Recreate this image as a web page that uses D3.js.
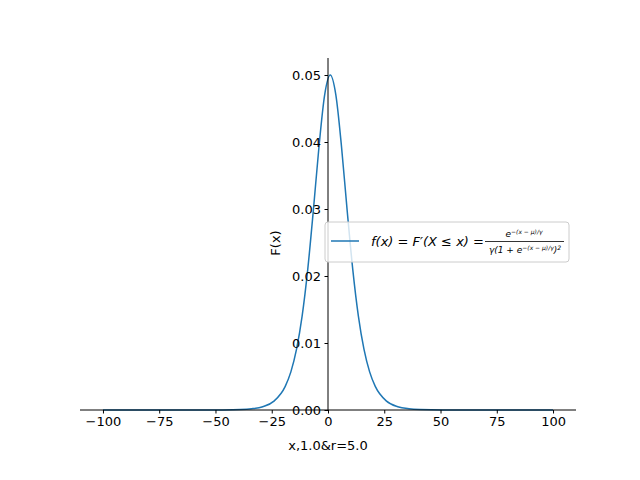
<!DOCTYPE html>
<html><head><meta charset="utf-8">
<script src="https://cdn.jsdelivr.net/npm/d3@7"></script>
<style>body{margin:0;background:#fff}text{font-family:"DejaVu Sans",sans-serif}</style>
</head><body><svg id="c" width="640" height="480"></svg>
<script>
// values
var xs = [-100,-50,-49,-39,-34,-29,-24,-19,-16.5,-14,-11.5,-9,-6.5,-4,-1.5,1,3.5,6,8.5,11,13.5,16,18.5,21,26,31,36,41,51,100];
var ys = [0,0,0.0000045,0.000067,0.000182,0.000493,0.00133,0.00353,0.00569,0.00904,0.01402,0.021,0.02983,0.03932,0.047,0.05,0.047,0.03932,0.02983,0.021,0.01402,0.00904,0.00569,0.00353,0.00133,0.000493,0.000182,0.000067,0.0000045,0];
var xTicks = [-100,-75,-50,-25,0,25,50,75,100];
var yTicks = [0,0.01,0.02,0.03,0.04,0.05];

var svg = d3.select("#c");
var x = d3.scaleLinear().domain([-110.2,110.2]).range([80,576]);
var y = d3.scaleLinear().domain([0,0.05]).range([410,75]);

var pts = xs.map(function(d,i){ return [d, ys[i]]; });
svg.append("path").datum(pts)
  .attr("fill","none").attr("stroke","#1f77b4").attr("stroke-width",1.5)
  .attr("d", d3.line().x(function(d){return x(d[0]);}).y(function(d){return y(d[1]);}).curve(d3.curveMonotoneX));

var xa = svg.append("g").attr("transform","translate(0,410)")
  .call(d3.axisBottom(x).tickValues(xTicks).tickSize(3.5).tickPadding(3.5).tickFormat(function(d){return d<0?"\u2212"+(-d):d;}));
xa.select(".domain").attr("d","M80,0H576");
var ya = svg.append("g").attr("transform","translate("+x(0)+",0)")
  .call(d3.axisLeft(y).tickValues(yTicks).tickSize(3.5).tickPadding(3.5).tickFormat(d3.format(".2f")));
ya.select(".domain").attr("d","M0,58V410");
svg.selectAll(".tick text").attr("font-size",13).attr("fill","#000");
svg.selectAll(".tick line").attr("stroke","#000");

svg.append("text").attr("x",328).attr("y",450).attr("text-anchor","middle").attr("font-size",13).text("x,1.0&r=5.0");
svg.append("text").attr("transform","translate(280,243) rotate(-90)").attr("text-anchor","middle").attr("font-size",13).text("F(x)");

var lg = svg.append("g");
lg.append("rect").attr("x",325).attr("y",222).attr("width",244).attr("height",40).attr("rx",3)
  .attr("fill","#fff").attr("fill-opacity",0.8).attr("stroke","#ccc");
lg.append("line").attr("x1",331).attr("x2",359).attr("y1",241).attr("y2",241).attr("stroke","#1f77b4").attr("stroke-width",1.5);
lg.append("text").attr("x",371).attr("y",246).attr("font-size",13).attr("font-style","italic").text("f(x) = F\u2032(X \u2264 x) =");
lg.append("line").attr("x1",485).attr("x2",564).attr("y1",241.5).attr("y2",241.5).attr("stroke","#000").attr("stroke-width",0.8);
lg.append("text").attr("x",525).attr("y",237).attr("text-anchor","middle").attr("font-size",9).attr("font-style","italic").text("e\u207B\u207D\u02E3\u207B\u1D58\u207E/\u02E0").remove();
lg.append("text").attr("x",524).attr("y",237).attr("text-anchor","middle").attr("font-size",9).attr("font-style","italic")
  .html('e<tspan font-size="6" dy="-3">\u2212(x \u2212 \u03bc)/\u03b3</tspan>');
lg.append("text").attr("x",525).attr("y",253).attr("text-anchor","middle").attr("font-size",9).attr("font-style","italic")
  .html('\u03b3(1 + e<tspan font-size="6" dy="-3">\u2212(x \u2212 \u03bc)/\u03b3</tspan><tspan dy="3">)</tspan><tspan font-size="6" dy="-3">2</tspan>');
</script></body></html>
